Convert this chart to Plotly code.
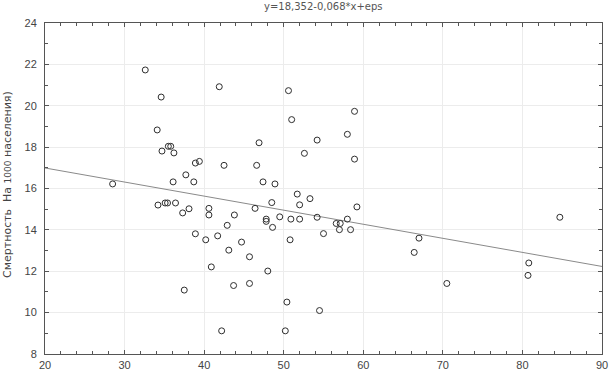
import plotly.graph_objects as go

# Data
x_vals = [32.6, 34.6, 34.1, 35.5, 35.8, 34.7, 36.2, 38.9, 39.4, 37.7,
          28.5, 36.1, 38.7, 34.2, 35.1, 35.4, 36.4, 37.3, 38.1, 38.9,
          37.5, 41.9, 50.6, 58.9, 51.0, 54.2, 58.0, 46.9, 52.6, 58.9,
          42.5, 46.6, 47.4, 48.9, 51.7, 53.3, 48.5, 52.0, 59.2, 40.6,
          40.6, 46.4, 43.8, 47.8, 47.8, 49.5, 50.9, 52.0, 54.2, 56.6,
          57.1, 58.0, 42.9, 48.6, 57.0, 58.4, 55.0, 41.7, 40.2, 44.7,
          50.8, 43.1, 45.7, 40.9, 48.0, 43.7, 45.7, 50.4, 54.5, 42.2,
          50.2, 84.7, 67.0, 66.4, 80.8, 80.7, 70.5]
y_vals = [21.73, 20.42, 18.83, 18.04, 18.04, 17.81, 17.72, 17.23, 17.31, 16.66,
          16.22, 16.32, 16.32, 15.20, 15.30, 15.30, 15.30, 14.82, 15.02, 13.81,
          11.09, 20.92, 20.73, 19.73, 19.33, 18.34, 18.62, 18.21, 17.70, 17.42,
          17.12, 17.12, 16.32, 16.22, 15.73, 15.51, 15.32, 15.21, 15.11, 15.04,
          14.72, 15.04, 14.72, 14.52, 14.41, 14.63, 14.52, 14.52, 14.61, 14.31,
          14.31, 14.52, 14.22, 14.12, 14.01, 14.01, 13.82, 13.71, 13.52, 13.41,
          13.52, 13.02, 12.70, 12.21, 12.01, 11.31, 11.41, 10.51, 10.10, 9.12,
          9.12, 14.61, 13.60, 12.91, 12.40, 11.80, 11.41]

# Regression line stated in the chart title
intercept = 18.352
slope = -0.068
line_x = [20, 90]
line_y = [intercept + slope * v for v in line_x]

title_text = "y=18,352-0,068*x+eps"
y_label = "Смертность  На <span style='font-size:9px'>1000</span> населения)"

fig = go.Figure()
fig.add_trace(go.Scatter(x=line_x, y=line_y, mode="lines",
                         line=dict(color="#8a8a8a", width=1),
                         hoverinfo="skip", showlegend=False))
fig.add_trace(go.Scatter(x=x_vals, y=y_vals, mode="markers",
                         marker=dict(symbol="circle-open", size=6,
                                     color="#2e2e2e", line=dict(width=1)),
                         showlegend=False))

axis_common = dict(
    showline=True, linecolor="#555555", linewidth=1, mirror="allticks",
    ticks="inside", ticklen=4, tickcolor="#555555", tickwidth=1,
    showgrid=True, gridcolor="#ececec", gridwidth=1, zeroline=False,
    tickfont=dict(family="Liberation Sans", size=11, color="#444444"),
)

fig.update_layout(
    width=615, height=378,
    margin=dict(l=45, r=7, t=23, b=17),
    paper_bgcolor="white", plot_bgcolor="white",
    xaxis=dict(range=[20, 90], dtick=10, tick0=20, ticklabelstandoff=1,
               minor=dict(dtick=2, ticks="inside", ticklen=3, tickcolor="#555555", showgrid=False),
               **axis_common),
    yaxis=dict(range=[8, 24], dtick=2, tick0=8, ticklabelstandoff=5,
               minor=dict(dtick=1, ticks="inside", ticklen=3, tickcolor="#555555", showgrid=False),
               **axis_common),
    annotations=[
        dict(text=title_text, xref="paper", yref="paper", x=0.5, y=1.0,
             yshift=17, xanchor="center", yanchor="middle", showarrow=False,
             font=dict(family="DejaVu Sans", size=10, color="#555555")),
        dict(text=y_label, xref="paper", yref="paper", x=-0.0675, y=0.512,
             xanchor="center", yanchor="middle", textangle=-90, showarrow=False,
             font=dict(family="DejaVu Sans", size=11, color="#444444")),
    ],
)

fig.write_html("out.html", config={"displayModeBar": False},
               post_script="document.body.style.margin='0';")
